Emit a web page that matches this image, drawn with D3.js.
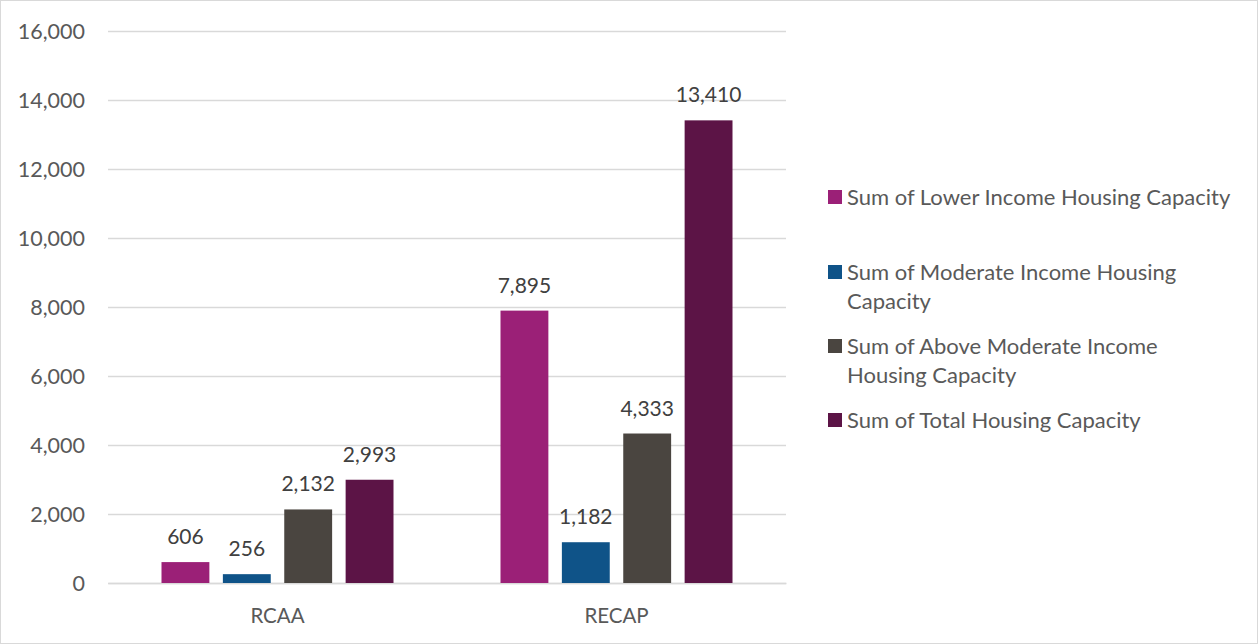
<!DOCTYPE html>
<html><head><meta charset="utf-8">
<script src="https://cdn.jsdelivr.net/npm/d3@7"></script>
<style>
html,body{margin:0;padding:0;background:#fff;}
svg{display:block;font-family:Lato,"Open Sans",sans-serif;}
</style></head>
<body>
<svg id="c" width="1258" height="644"></svg>
<script>
const categories = ["RCAA", "RECAP"];
const seriesNames = [
  "Sum of Lower Income Housing Capacity",
  "Sum of Moderate Income Housing Capacity",
  "Sum of Above Moderate Income Housing Capacity",
  "Sum of Total Housing Capacity"
];
const lowerIncome = [606, 7895];
const moderateIncome = [256, 1182];
const aboveModerate = [2132, 4333];
const totalCapacity = [2993, 13410];
const seriesColors = ["#9b2077", "#0f5388", "#4a4540", "#5c1446"];
const yTicks = [0, 2000, 4000, 6000, 8000, 10000, 12000, 14000, 16000];
const legendLines = [
  ["Sum of Lower Income Housing Capacity"],
  ["Sum of Moderate Income Housing", "Capacity"],
  ["Sum of Above Moderate Income", "Housing Capacity"],
  ["Sum of Total Housing Capacity"]
];

const seriesValues = [lowerIncome, moderateIncome, aboveModerate, totalCapacity];
const svg = d3.select("#c");
const W = 1258, H = 644;
svg.append("rect").attr("x",0.5).attr("y",0.5).attr("width",W-1).attr("height",H-1)
  .attr("fill","#fff").attr("stroke","#d9d9d9");

const plot = {left:108, right:786, top:31, bottom:583};
const y = d3.scaleLinear().domain([0,16000]).range([plot.bottom, plot.top]);
const x0 = d3.scaleBand().domain(categories).range([plot.left, plot.right]).paddingInner(0).paddingOuter(0);
const groupWidth = 232;
const x1 = d3.scaleBand().domain(d3.range(4)).range([0, groupWidth]).paddingInner(0.22).paddingOuter(0);

const fmt = d3.format(",");

// gridlines
const yAxis = d3.axisLeft(y).tickValues(yTicks).tickSize(-(plot.right-plot.left)).tickFormat(fmt).tickPadding(23);
const gy = svg.append("g").attr("transform",`translate(${plot.left},0)`).call(yAxis);
gy.select(".domain").remove();
gy.selectAll(".tick line").attr("stroke","#d9d9d9").attr("stroke-width",1.3);
gy.selectAll(".tick text").attr("fill","#595959").style("font-size","21.5px").attr("font-family","Lato, sans-serif").attr("dy","0.34em");

// x axis
const xAxis = d3.axisBottom(x0).tickSize(0).tickPadding(25);
const gx = svg.append("g").attr("transform",`translate(0,${plot.bottom})`).call(xAxis);
gx.select(".domain").attr("stroke","#d9d9d9").attr("stroke-width",1.3);
gx.selectAll(".tick text").attr("fill","#595959").style("font-size","20.5px").attr("font-family","Lato, sans-serif");

// bars
const groups = svg.append("g").selectAll("g").data(categories).join("g")
  .attr("transform", c => `translate(${x0(c) + (x0.bandwidth()-groupWidth)/2},0)`);
groups.each(function(c, ci){
  const g = d3.select(this);
  seriesValues.forEach((vals, si) => {
    g.append("rect")
      .attr("x", x1(si)).attr("width", x1.bandwidth())
      .attr("y", y(vals[ci])).attr("height", y(0)-y(vals[ci]))
      .attr("fill", seriesColors[si]);
    g.append("text")
      .attr("x", x1(si)+x1.bandwidth()/2).attr("y", y(vals[ci]) - 18)
      .attr("text-anchor","middle").attr("fill","#404040")
      .style("font-size","21px").text(fmt(vals[ci]));
  });
});

// legend
const legendTops = [197, 272, 346, 420];
const leg = svg.append("g");
legendLines.forEach((lines, i) => {
  leg.append("rect").attr("x",828).attr("y",legendTops[i]-7).attr("width",14).attr("height",14).attr("fill",seriesColors[i]);
  lines.forEach((ln, j) => {
    leg.append("text").attr("x",847).attr("y",legendTops[i] + j*29).attr("dy","0.35em")
      .attr("fill","#595959").style("font-size","22px").text(ln);
  });
});
</script>
</body></html>
